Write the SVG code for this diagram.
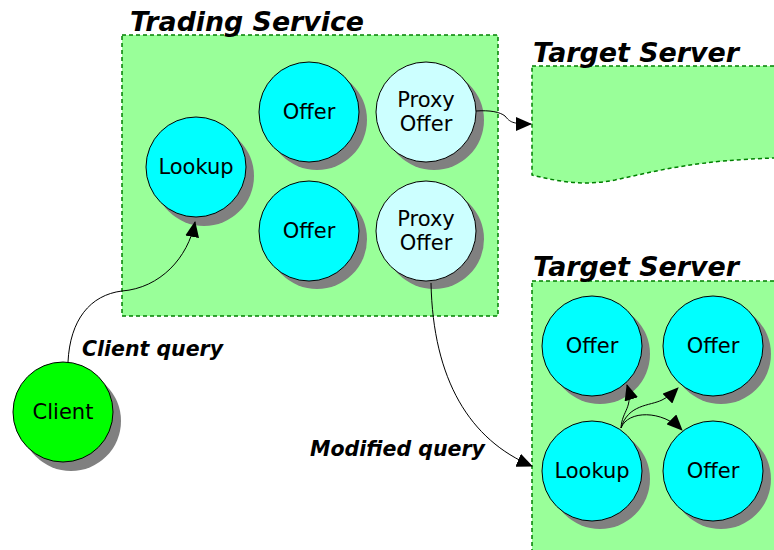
<svg xmlns="http://www.w3.org/2000/svg" width="774" height="550" viewBox="0 0 774 550">
<style>
.box{fill:#99ff99;stroke:#008000;stroke-width:1.5;stroke-dasharray:4,3}
.sh{fill:#808080}
.n{stroke:#000;stroke-width:1}
.cy{fill:#00ffff}
.px{fill:#ccffff}
.cl{fill:#00ff00}
.t{font-family:"DejaVu Sans",Verdana,sans-serif;font-size:21px;fill:#000;text-anchor:middle}
.title{font-family:"DejaVu Sans",Verdana,sans-serif;font-size:27px;font-weight:bold;font-style:italic;fill:#000}
.lbl{font-family:"DejaVu Sans",Verdana,sans-serif;font-size:20.5px;font-weight:bold;font-style:italic;fill:#000}
.c{fill:none;stroke:#000;stroke-width:1}
</style>
<defs>
<marker id="ah" markerUnits="userSpaceOnUse" markerWidth="16" markerHeight="14" refX="15" refY="7" orient="auto">
<path d="M0,0 L16,7 L0,14 Z" fill="#000"/>
</marker>
</defs>
<g id="trading-service">
<rect class="box" x="122" y="35" width="376" height="281"/>
<text class="title" x="130" y="31" textLength="234" lengthAdjust="spacingAndGlyphs">Trading Service</text>
</g>
<g id="target-server-1">
<path class="box" d="M532,66 H776 V158 C700,160 660,170 615,180 C585,186 560,182 532,175 Z"/>
<text class="title" x="533" y="62" textLength="206" lengthAdjust="spacingAndGlyphs">Target Server</text>
</g>
<g id="target-server-2">
<rect class="box" x="532" y="281" width="246" height="275"/>
<text class="title" x="533" y="276" textLength="206" lengthAdjust="spacingAndGlyphs">Target Server</text>
</g>
<g id="lookup1"><circle class="sh" cx="204" cy="176" r="50"/><circle class="n cy" cx="196" cy="167" r="50"/><text class="t" x="196" y="174">Lookup</text></g>
<g id="offer1"><circle class="sh" cx="317" cy="120" r="50"/><circle class="n cy" cx="309" cy="112" r="50"/><text class="t" x="309" y="119">Offer</text></g>
<g id="offer2"><circle class="sh" cx="317" cy="239" r="50"/><circle class="n cy" cx="309" cy="231" r="50"/><text class="t" x="309" y="238">Offer</text></g>
<g id="proxy1"><circle class="sh" cx="434" cy="120" r="50"/><circle class="n px" cx="426" cy="112" r="50"/><text class="t" x="426" y="107">Proxy</text><text class="t" x="426" y="131">Offer</text></g>
<g id="proxy2"><circle class="sh" cx="434" cy="239" r="50"/><circle class="n px" cx="426" cy="231" r="50"/><text class="t" x="426" y="226">Proxy</text><text class="t" x="426" y="250">Offer</text></g>
<g id="client"><circle class="sh" cx="71" cy="421" r="50"/><circle class="n cl" cx="63" cy="412" r="50"/><text class="t" x="63" y="419">Client</text></g>
<g id="offer3"><circle class="sh" cx="600" cy="354" r="50"/><circle class="n cy" cx="592" cy="346" r="50"/><text class="t" x="592" y="353">Offer</text></g>
<g id="offer4"><circle class="sh" cx="721" cy="354" r="50"/><circle class="n cy" cx="713" cy="346" r="50"/><text class="t" x="713" y="353">Offer</text></g>
<g id="lookup2"><circle class="sh" cx="600" cy="479" r="50"/><circle class="n cy" cx="592" cy="471" r="50"/><text class="t" x="592" y="478">Lookup</text></g>
<g id="offer5"><circle class="sh" cx="721" cy="479" r="50"/><circle class="n cy" cx="713" cy="471" r="50"/><text class="t" x="713" y="478">Offer</text></g>
<g id="connectors">
<path class="c" marker-end="url(#ah)" d="M68,362 C70,320 90,295 122,291 C160,288 188,258 195,222"/>
<path class="c" marker-end="url(#ah)" d="M476,111 C490,110 500,112 505,116 C510,122 512,124 531,124"/>
<path class="c" marker-end="url(#ah)" d="M431,283 C433,380 470,440 532,466"/>
<path class="c" marker-end="url(#ah)" d="M621,428 C622,410 634,408 627,385"/>
<path class="c" marker-end="url(#ah)" d="M621,428 C628,404 650,406 662,400 C668,397 673,393 678,388"/>
<path class="c" marker-end="url(#ah)" d="M621,428 C628,410 662,410 682,430"/>
<text class="lbl" x="82" y="356" textLength="141" lengthAdjust="spacingAndGlyphs">Client query</text>
<text class="lbl" x="310" y="456" textLength="175" lengthAdjust="spacingAndGlyphs">Modified query</text>
</g>
</svg>
